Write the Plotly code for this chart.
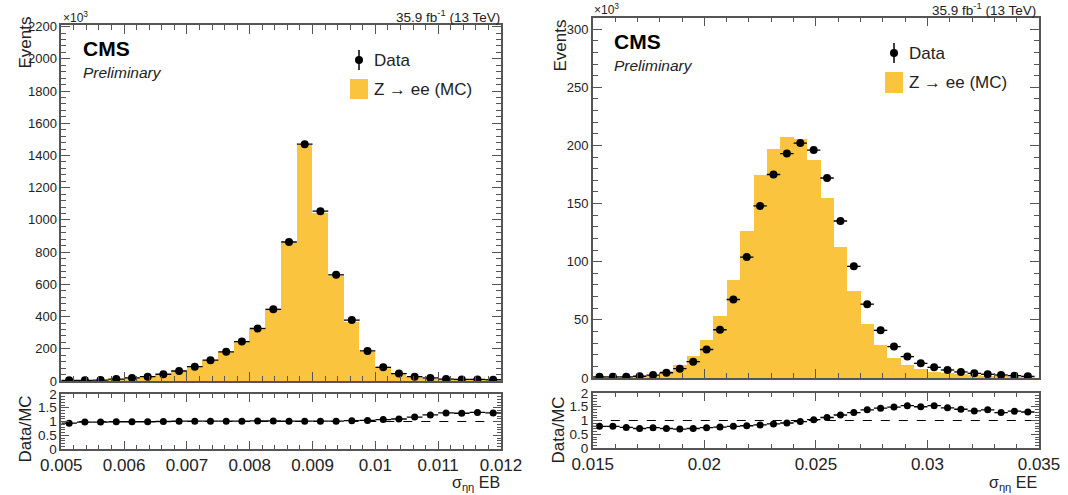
import numpy as np
import plotly.graph_objects as go

# ---------------- data ----------------
# EB: 28 bins of width 0.00025 from 0.005
eb_lo, eb_w, eb_n = 0.005, 0.00025, 28
eb_data = [4, 4, 6, 12, 19, 27, 42, 62, 89, 129, 181, 245, 326, 445, 863, 1470,
           1054, 659, 378, 187, 85, 46, 27, 19, 12, 10, 10, 8]
eb_mc = [4.3, 4.1, 6.1, 12.1, 19.2, 27.3, 42, 61.4, 88, 128, 179, 243, 320, 438, 858, 1462,
         1045, 652, 367, 180, 79, 42, 23, 15, 9.2, 7.7, 7.5, 6.1]
eb_ratio = [0.94, 0.98, 0.98, 0.99, 0.99, 0.99, 1.0, 1.01, 1.01, 1.01, 1.01, 1.01, 1.02, 1.02,
            1.01, 1.01, 1.01, 1.01, 1.03, 1.04, 1.07, 1.09, 1.16, 1.24, 1.31, 1.30, 1.33, 1.31]

# EE: 33 bins of width 0.0006 from 0.015
ee_lo, ee_w, ee_n = 0.015, 0.0006, 33
ee_data = [1, 1, 1, 1.5, 2.5, 4.5, 8, 14, 24.5, 41.5, 67.5, 104, 148, 175, 193, 202, 196,
           172, 135, 96, 63.5, 41, 27, 18.4, 12.6, 9.2, 6.9, 5.2, 4, 3.2, 2.6, 2, 1.4]
ee_mc = [1.3, 1.3, 1.3, 2.1, 3.4, 6.3, 11.6, 19.5, 33, 54, 85, 127, 175, 197, 208, 206, 188,
         155, 113, 75, 47, 29, 18, 12, 8.4, 6, 4.7, 3.7, 3, 2.3, 2, 1.5, 1.1]
ee_ratio = [0.79, 0.79, 0.75, 0.71, 0.74, 0.71, 0.69, 0.71, 0.74, 0.76, 0.79, 0.81, 0.84, 0.875,
            0.91, 0.96, 1.03, 1.11, 1.2, 1.29, 1.39, 1.45, 1.49, 1.54, 1.5, 1.54, 1.46, 1.41,
            1.35, 1.39, 1.29, 1.34, 1.31]

eb_centers = eb_lo + eb_w * (np.arange(eb_n) + 0.5)
ee_centers = ee_lo + ee_w * (np.arange(ee_n) + 0.5)

# ---------------- style ----------------
W, H = 1068, 495
YELLOW = "#FAC43F"
AX = "#555555"
FONT = "Liberation Sans, Arial, sans-serif"
TXT = "#222222"


def px(x, y):
    return x / W, 1 - y / H


fig = go.Figure()


def add_panel(centers, bw, data, mc, ratio, xa, ya, xr, yr):
    fig.add_trace(go.Bar(x=centers, y=mc, width=bw, marker=dict(color=YELLOW, line=dict(width=0)),
                         xaxis=xa, yaxis=ya, hoverinfo="skip"))
    fig.add_trace(go.Scatter(x=centers, y=data, mode="markers",
                             marker=dict(color="black", size=8),
                             error_x=dict(type="constant", value=bw / 2, color="black",
                                          thickness=1.3, width=0),
                             xaxis=xa, yaxis=ya))
    fig.add_trace(go.Scatter(x=centers, y=ratio, mode="markers",
                             marker=dict(color="black", size=7),
                             error_x=dict(type="constant", value=bw / 2, color="black",
                                          thickness=1.3, width=0),
                             xaxis=xr, yaxis=yr))


add_panel(eb_centers, eb_w, eb_data, eb_mc, eb_ratio, "x", "y", "x2", "y2")
add_panel(ee_centers, ee_w, ee_data, ee_mc, ee_ratio, "x3", "y3", "x4", "y4")


def axis(domain, rng, dtick, mdtick, tlen, mlen, labels, anchor, fsize=13):
    return dict(domain=domain, range=rng, dtick=dtick, tick0=0, showgrid=False, zeroline=False,
                showline=True, linecolor=AX, linewidth=1.5, mirror="ticks",
                ticks="inside", ticklen=tlen, tickwidth=1.3, tickcolor=AX,
                minor=dict(dtick=mdtick, tick0=0, ticks="inside", ticklen=mlen, tickwidth=1.1,
                           tickcolor=AX, showgrid=False),
                showticklabels=labels, anchor=anchor, automargin=False, tickangle=0,
                tickfont=dict(family=FONT, size=fsize, color=TXT))


# domains (in paper fraction)
lx = [61.3 / W, 501 / W]
rx = [592.8 / W, 1039 / W]
lmy = [1 - 381 / H, 1 - 25 / H]
lry = [1 - 449 / H, 1 - 394 / H]
rmy = [1 - 378 / H, 1 - 17.5 / H]
rry = [1 - 448 / H, 1 - 393 / H]

fig.update_layout(
    width=W, height=H, margin=dict(l=0, r=0, t=0, b=0, autoexpand=False),
    paper_bgcolor="white", plot_bgcolor="white", showlegend=False, bargap=0,
    xaxis=axis(lx, [0.005, 0.012], 0.001, 0.0002, 9, 5, False, "y"),
    yaxis=axis(lmy, [0, 2210], 200, 40, 9, 5, True, "x", 13),
    xaxis2=axis(lx, [0.005, 0.012], 0.001, 0.0002, 8, 4, True, "y2", 17),
    yaxis2=axis(lry, [0, 2], 0.5, 0.1, 8, 4, True, "x2", 13.5),
    xaxis3=axis(rx, [0.015, 0.035], 0.005, 0.001, 9, 5, False, "y3"),
    yaxis3=axis(rmy, [0, 310], 50, 10, 9, 5, True, "x3", 13),
    xaxis4=axis(rx, [0.015, 0.035], 0.005, 0.001, 8, 4, True, "y4", 17),
    yaxis4=axis(rry, [0, 2], 0.5, 0.1, 8, 4, True, "x4", 13.5),
)

# dashed line at ratio = 1
for xr, yr, r in (("x2", "y2", [0.005, 0.012]), ("x4", "y4", [0.015, 0.035])):
    fig.add_shape(type="line", xref=xr, yref=yr, x0=r[0], x1=r[1], y0=1, y1=1,
                  line=dict(color="black", width=1, dash="dash"), layer="below")

ann = []


def text(x, y, s, size, xanchor="left", yanchor="middle", angle=0, bold=False, italic=False,
         color=TXT):
    fx, fy = px(x, y)
    if bold:
        s = "<b>" + s + "</b>"
    if italic:
        s = "<i>" + s + "</i>"
    ann.append(dict(x=fx, y=fy, xref="paper", yref="paper", text=s, showarrow=False,
                    xanchor=xanchor, yanchor=yanchor, textangle=angle,
                    font=dict(family=FONT, size=size, color=color)))


shapes = []


def legend(xm, ym, xs0, xs1, ys0, ys1, xt):
    # data marker with vertical error line
    a, b = px(xm, ym - 10)
    c, d = px(xm, ym + 10)
    shapes.append(dict(type="line", xref="paper", yref="paper", x0=a, y0=b, x1=c, y1=d,
                       line=dict(color="black", width=1.5)))
    a, b = px(xm - 4, ym - 4)
    c, d = px(xm + 4, ym + 4)
    shapes.append(dict(type="circle", xref="paper", yref="paper", x0=a, y0=b, x1=c, y1=d,
                       fillcolor="black", line=dict(color="black", width=0)))
    a, b = px(xs0, ys0)
    c, d = px(xs1, ys1)
    shapes.append(dict(type="rect", xref="paper", yref="paper", x0=a, y0=b, x1=c, y1=d,
                       fillcolor=YELLOW, line=dict(width=0)))
    text(xt, ym, "Data", 17)
    text(xt, (ys0 + ys1) / 2, "Z → ee (MC)", 17)


# left panel texts
text(61, 17, "×10<sup>3</sup>", 12)
text(502, 16, "35.9 fb<sup>-1</sup> (13 TeV)", 13.5, xanchor="right")
text(81, 49, "CMS", 21, bold=True, color="black")
text(81, 72, "Preliminary", 15.5, italic=True)
legend(359, 60, 350, 368, 79, 99, 372)
text(14, 15, "Events", 17, yanchor="top", angle=-90)
text(13, 429, "Data/MC", 17, angle=-90)
text(502, 495, "σ<sub>ηη</sub> EB", 16, xanchor="right", yanchor="bottom")

# right panel texts
text(592, 9, "×10<sup>3</sup>", 12)
text(1038, 9, "35.9 fb<sup>-1</sup> (13 TeV)", 13.5, xanchor="right")
text(612, 42, "CMS", 21, bold=True, color="black")
text(612, 66, "Preliminary", 15.5, italic=True)
legend(894, 53, 885, 903, 72, 93, 907)
text(548, 18, "Events", 17, yanchor="top", angle=-90)
text(546, 430, "Data/MC", 17, angle=-90)
text(1039, 495, "σ<sub>ηη</sub> EE", 16, xanchor="right", yanchor="bottom")

fig.update_layout(annotations=ann)
for s in shapes:
    fig.add_shape(**s)

fig.write_html("out.html")
